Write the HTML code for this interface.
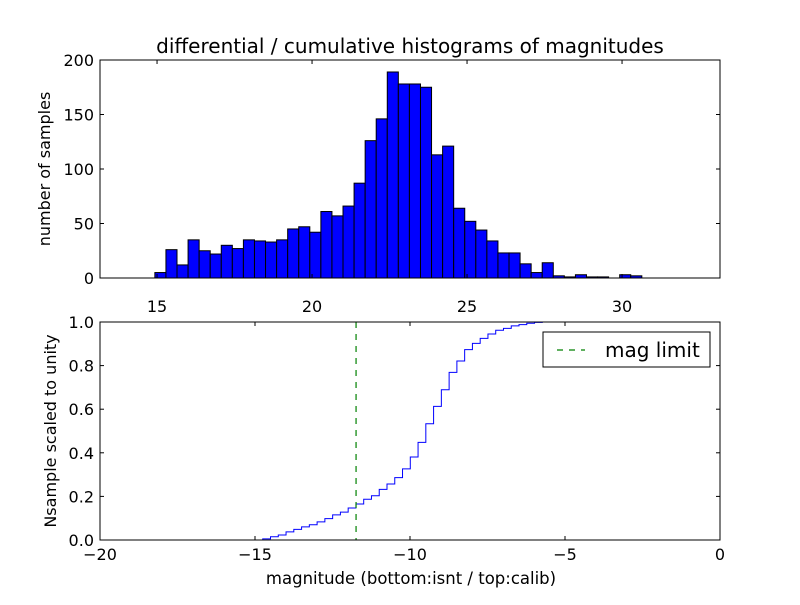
<!DOCTYPE html>
<html><head><meta charset="utf-8"><style>
body{margin:0;background:#fff}
svg text{font-family:"DejaVu Sans","Liberation Sans",sans-serif;fill:#000}
</style></head><body>
<svg id="c" width="800" height="600" xmlns="http://www.w3.org/2000/svg">
<rect width="800" height="600" fill="#fff"/>
</svg>
<script>
const histEdgeStart = 14.93;
const histBinWidth = 0.357;
const histCounts = [5,26,12,35,25,22,30,27,35,34,33,35,45,47,42,61,57,66,87,126,146,189,178,178,175,113,121,64,52,44,34,23,23,13,5,14,2,1,3,1,1,0,3,2];
const topXTicks = [15,20,25,30];
const topYTicks = [0,50,100,150,200];
const cumEdgeStart = -14.75;
const cumBinWidth = 0.2505;
const cumValues = [0.005,0.015,0.023,0.037,0.049,0.06,0.07,0.083,0.098,0.115,0.128,0.147,0.165,0.187,0.203,0.232,0.257,0.286,0.326,0.381,0.448,0.533,0.613,0.689,0.769,0.821,0.873,0.902,0.925,0.945,0.962,0.971,0.982,0.988,0.994,0.998,1.0];
const botXTicks = [-20,-15,-10,-5,0];
const botYTicks = [0,0.2,0.4,0.6,0.8,1.0];
const magLimit = -11.74;

const NS="http://www.w3.org/2000/svg", svg=document.getElementById('c');
function mk(tag,attrs,parent){const e=document.createElementNS(NS,tag);for(const k in attrs)e.setAttribute(k,attrs[k]);(parent||svg).appendChild(e);return e;}
function txt(s,x,y,size,anchor,parent){const t=mk('text',{x:x,y:y,'font-size':size,'text-anchor':anchor||'middle'},parent);t.textContent=s;return t;}

const L=100,R=720,T1=60,B1=278;
const tx=v=>L+(v-13.16)*31, ty=v=>B1-v*1.09;
const g1=mk('g',{});


histCounts.forEach((c,i)=>{
  const x0=tx(histEdgeStart+i*histBinWidth), x1=tx(histEdgeStart+(i+1)*histBinWidth);
  const r=mk('rect',{x:x0,y:ty(c),width:x1-x0,height:B1-ty(c),fill:'#0000ff',stroke:'#000','stroke-width':1},g1);
  
  
});
mk('rect',{x:L,y:T1,width:R-L,height:B1-T1,fill:'none',stroke:'#000','stroke-width':1},g1);
topXTicks.forEach(v=>{const x=tx(v);mk('line',{x1:x,x2:x,y1:B1,y2:B1-4,stroke:'#000'},g1);mk('line',{x1:x,x2:x,y1:T1,y2:T1+4,stroke:'#000'},g1);
  const t=txt(String(v),x,B1+34,16,'middle',g1);});
topYTicks.forEach(v=>{const y=ty(v);mk('line',{x1:L,x2:L+4,y1:y,y2:y,stroke:'#000'},g1);mk('line',{x1:R,x2:R-4,y1:y,y2:y,stroke:'#000'},g1);
  const t=txt(String(v),L-6,y+6,16,'end',g1);});
const title=txt('differential / cumulative histograms of magnitudes',410,53,20,'middle');

const yl1=txt('number of samples',0,0,16,'middle');yl1.setAttribute('transform','translate(50,169) rotate(-90)');


const T2=322,B2=540;
const bx=v=>L+(v+20)*31, by=v=>B2-v*218;
const g2=mk('g',{});


let d='M'+bx(-20)+','+by(0)+' L'+bx(cumEdgeStart)+','+by(0);
cumValues.forEach((v,i)=>{const x=bx(cumEdgeStart+i*cumBinWidth);d+=' L'+x+','+by(v)+' L'+bx(cumEdgeStart+(i+1)*cumBinWidth)+','+by(v);});
d+=' L'+bx(0)+','+by(1)+' L'+bx(0)+','+by(0);
const p=mk('path',{d:d,fill:'none',stroke:'#0000ff','stroke-width':1},g2);

const ml=mk('line',{x1:bx(magLimit),x2:bx(magLimit),y1:T2,y2:B2,stroke:'#008000','stroke-width':1.2,'stroke-dasharray':'6,6'},g2);

mk('rect',{x:L,y:T2,width:R-L,height:B2-T2,fill:'none',stroke:'#000'},g2);
botXTicks.forEach(v=>{const x=bx(v);mk('line',{x1:x,x2:x,y1:B2,y2:B2-4,stroke:'#000'},g2);mk('line',{x1:x,x2:x,y1:T2,y2:T2+4,stroke:'#000'},g2);
  const t=txt(v<0?'\u2212'+(-v):String(v),x,B2+20,16,'middle',g2);});
botYTicks.forEach(v=>{const y=by(v);mk('line',{x1:L,x2:L+4,y1:y,y2:y,stroke:'#000'},g2);mk('line',{x1:R,x2:R-4,y1:y,y2:y,stroke:'#000'},g2);
  const t=txt(v.toFixed(1),L-6,y+6,16,'end',g2);});
const xl=txt('magnitude (bottom:isnt / top:calib)',411,584,16.5,'middle');

const yl2=txt('Nsample scaled to unity',0,0,16,'middle');yl2.setAttribute('transform','translate(56,431) rotate(-90)');

const lg=mk('g',{});

mk('rect',{x:543,y:332,width:167,height:35,fill:'#fff',stroke:'#000'},lg);
mk('line',{x1:557,x2:585,y1:350,y2:350,stroke:'#008000','stroke-width':1.2,'stroke-dasharray':'6,6'},lg);
txt('mag limit',605,357,20,'start',lg);
</script>
</body></html>
